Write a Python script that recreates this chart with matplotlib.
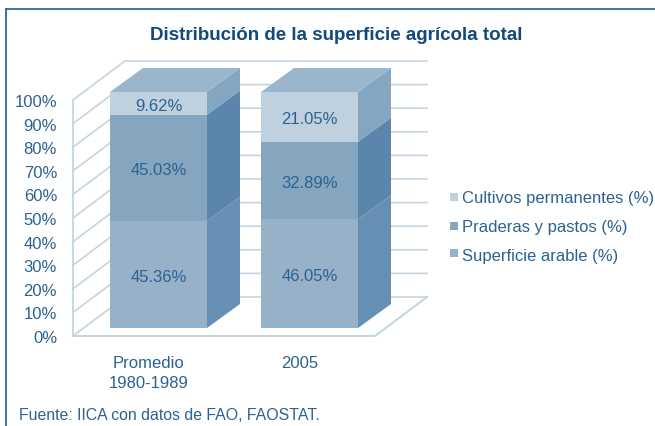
import matplotlib
matplotlib.use("Agg")
import matplotlib.pyplot as plt
from matplotlib.patches import Polygon
from matplotlib.transforms import ScaledTranslation

categories = ["Promedio\n1980-1989", "2005"]
series_names = ["Superficie arable (%)", "Praderas y pastos (%)", "Cultivos permanentes (%)"]
arable = [45.36, 46.05]
praderas = [45.03, 32.89]
cultivos = [9.62, 21.05]
yticks = list(range(0, 101, 10))

W, H = 655, 426
TXT = "#2C6291"
FRONT = ["#97B1C9", "#86A5BF", "#BFD0DF"]
SIDE = ["#6690B3", "#5B86AB", "#85A6C0"]
TOP = "#9AB6CD"
GRID = "#C3D4E2"

plt.rcParams["font.family"] = ["Liberation Sans", "DejaVu Sans"]
fig = plt.figure(figsize=(W / 100, H / 100), dpi=100, facecolor="white")

# axes = front plane of the 3D box
L, R, T, B = 73, 375, 100, 336
ax = fig.add_axes([L / W, 1 - B / H, (R - L) / W, (B - T) / H])
ax.set_xlim(L, R)
ax.set_ylim(0, 100)
ax.patch.set_visible(False)
for s in ax.spines.values():
    s.set_visible(False)
PY = 100 / (B - T)  # value units per pixel

# walls
WDX, WDY = 52, 39
for v in yticks:
    ax.plot([L, L + WDX, R + WDX], [v, v + WDY * PY, v + WDY * PY], color=GRID, lw=1.2,
            clip_on=False, zorder=1, solid_joinstyle="miter")
ax.plot([L, L], [0, 100], color=GRID, lw=1.3, clip_on=False, zorder=1)
ax.plot([L, R, R + WDX], [0, 0, WDY * PY], color=GRID, lw=1.4, clip_on=False, zorder=1)

# bars
xfront = [110, 261]
bw = 97
BDX, BDY = 33, 24
INY = 8
for i, x0 in enumerate(xfront):
    base = 0
    x1 = x0 + bw
    shift = INY * PY
    for j, vals in enumerate([arable, praderas, cultivos]):
        v = vals[i]
        y0, y1 = base + shift, base + v + shift
        ax.add_patch(Polygon([(x0, y0), (x1, y0), (x1, y1), (x0, y1)], fc=FRONT[j], ec="none",
                             clip_on=False, zorder=3))
        ax.add_patch(Polygon([(x1, y0), (x1 + BDX, y0 + BDY * PY), (x1 + BDX, y1 + BDY * PY), (x1, y1)],
                             fc=SIDE[j], ec="none", clip_on=False, zorder=3))
        ax.text((x0 + x1) / 2, (y0 + y1) / 2 - 1.5 * PY, f"{v:.2f}%", ha="center", va="center_baseline",
                color=TXT, fontsize=12, zorder=5)
        base += v
    ytop = base + shift
    ax.add_patch(Polygon([(x0, ytop), (x1, ytop), (x1 + BDX, ytop + BDY * PY), (x0 + BDX, ytop + BDY * PY)],
                         fc=TOP, ec="none", clip_on=False, zorder=3))

# axes labels
ax.set_yticks(yticks)
ax.set_yticklabels([f"{v}%" for v in yticks], fontsize=12, color=TXT)
ax.set_xticks([149, 300])
ax.set_xticklabels(categories, fontsize=12, color=TXT, linespacing=1.4)
ax.tick_params(axis="both", length=0)
ax.tick_params(axis="y", pad=11.5)
ax.tick_params(axis="x", pad=14.2)
nudge = ScaledTranslation(0, -1 / 100, fig.dpi_scale_trans)
for lab in ax.get_yticklabels():
    lab.set_transform(lab.get_transform() + nudge)

# frame
fig.add_artist(plt.Line2D([5.5 / W, 5.5 / W], [1 - 9 / H, 0], color="#2A6A9E", lw=1.3))
fig.add_artist(plt.Line2D([5.5 / W, 1], [1 - 9 / H, 1 - 9 / H], color="#2A6A9E", lw=1.3))

# title and source
fig.text(336.5 / W, 1 - 35 / H, "Distribución de la superficie agrícola total", ha="center", va="center",
         fontsize=13.5, fontweight="bold", color="#124A7E")
fig.text(19 / W, 1 - 415 / H, "Fuente: IICA con datos de FAO, FAOSTAT.", ha="left", va="center",
         fontsize=11.4, color=TXT)

# legend
legend_y = [199, 228, 256]
swatch_y = [197, 226, 253]
for name, col, y, sy in zip(series_names[::-1], FRONT[::-1], legend_y, swatch_y):
    fig.patches.append(plt.Rectangle((450 / W, 1 - (sy + 4) / H), 8 / W, 8 / H, fc=col, ec="none",
                                     transform=fig.transFigure, figure=fig))
    fig.text(462 / W, 1 - y / H, name, ha="left", va="center", fontsize=12, color=TXT)

fig.savefig("out.png", dpi=100, facecolor="white")
